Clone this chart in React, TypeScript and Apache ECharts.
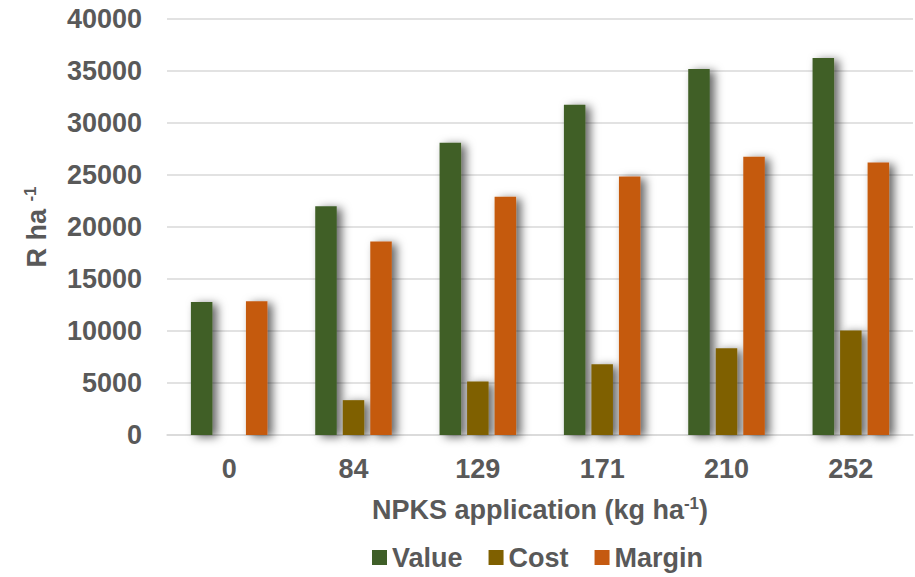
import React, { useEffect, useRef } from "react";
import * as echarts from "echarts";

// NPKS application rates (kg ha-1)
const categories = ["0", "84", "129", "171", "210", "252"];
// Revenue, fertiliser cost and margin (R ha-1)
const valueData = [12800, 22000, 28100, 31750, 35200, 36250];
const costData = [0, 3350, 5150, 6800, 8350, 10050];
const marginData = [12850, 18600, 22900, 24850, 26750, 26200];

const yTicks = { min: 0, max: 40000, interval: 5000 };

const FONT = "'Liberation Sans', Arial, Helvetica, sans-serif";
const TEXT = "#595959";
const GRID = "#D9D9D9";

const barShadow = {
  shadowBlur: 10,
  shadowColor: "rgba(0,0,0,0.6)",
  shadowOffsetX: 5,
  shadowOffsetY: 2,
};

export default function App() {
  const ref = useRef<HTMLDivElement>(null);

  useEffect(() => {
    if (!ref.current) return;
    const chart = echarts.init(ref.current, undefined, { renderer: "svg" });

    const makeSeries = (name: string, data: number[], color: string) => ({
      name,
      type: "bar" as const,
      data,
      barWidth: 21.5,
      barGap: "28%",
      itemStyle: { color, ...barShadow },
    });

    chart.setOption({
      animation: false,
      backgroundColor: "#ffffff",
      textStyle: { fontFamily: FONT },
      grid: { left: 167, right: 2, top: 19, bottom: 142, containLabel: false },
      legend: {
        data: ["Value", "Cost", "Margin"],
        bottom: 1,
        left: 367,
        icon: "rect",
        itemWidth: 15,
        itemHeight: 15,
        itemGap: 26,
        textStyle: {
          fontFamily: FONT,
          fontSize: 27,
          fontWeight: "bold",
          color: TEXT,
        },
      },
      xAxis: {
        type: "category",
        data: categories,
        axisLine: { lineStyle: { color: GRID, width: 1.5 } },
        axisTick: { show: false },
        axisLabel: {
          fontFamily: FONT,
          fontSize: 27,
          fontWeight: "bold",
          color: TEXT,
          margin: 20,
        },
        name: "{a|NPKS application (kg ha}{b|-1}{a|)}",
        nameLocation: "middle",
        nameGap: 60,
        nameTextStyle: {
          rich: {
            a: { fontFamily: FONT, fontSize: 27, fontWeight: "bold", color: TEXT, lineHeight: 30 },
            b: {
              fontFamily: FONT,
              fontSize: 17,
              fontWeight: "bold",
              color: TEXT,
              verticalAlign: "top",
              lineHeight: 30,
            },
          },
        },
      },
      yAxis: {
        type: "value",
        min: yTicks.min,
        max: yTicks.max,
        interval: yTicks.interval,
        axisLine: { show: false },
        axisTick: { show: false },
        splitLine: { lineStyle: { color: GRID, width: 1.5 } },
        axisLabel: {
          fontFamily: FONT,
          fontSize: 27,
          fontWeight: "bold",
          color: TEXT,
          margin: 25,
          formatter: (v: number) => String(v),
        },
      },
      graphic: [
        {
          type: "text",
          x: 37,
          y: 227,
          rotation: Math.PI / 2,
          style: {
            text: "{a|R ha }{b|-1}",
            align: "center",
            verticalAlign: "middle",
            rich: {
              a: { fontFamily: FONT, fontSize: 27, fontWeight: "bold", fill: TEXT, lineHeight: 30 },
              b: {
                fontFamily: FONT,
                fontSize: 17,
                fontWeight: "bold",
                fill: TEXT,
                verticalAlign: "top",
                lineHeight: 30,
              },
            },
          },
        },
      ],
      series: [
        makeSeries("Value", valueData, "#3F5F28"),
        makeSeries("Cost", costData, "#7F6000"),
        makeSeries("Margin", marginData, "#C55A11"),
      ],
    });

    return () => chart.dispose();
  }, []);

  return (
    <div
      ref={ref}
      style={{ position: "absolute", left: 0, top: 0, width: 915, height: 577 }}
    />
  );
}
